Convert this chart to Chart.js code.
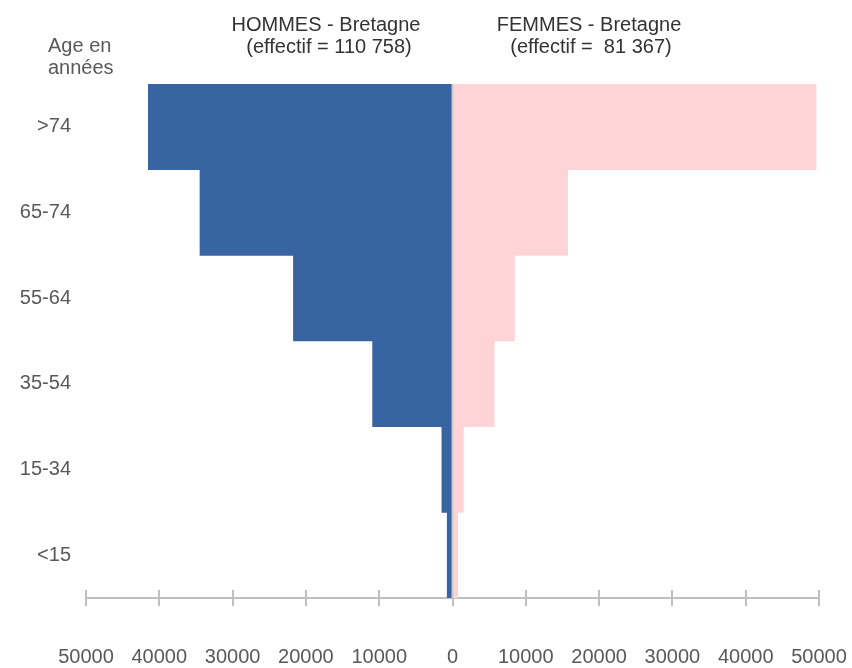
<!DOCTYPE html>
<html lang="fr">
<head>
<meta charset="utf-8">
<title>Pyramide des âges - Bretagne</title>
<script src="https://cdn.jsdelivr.net/npm/chart.js@4.4.1/dist/chart.umd.min.js"></script>
<style>
  html, body { margin: 0; padding: 0; background: #ffffff; }
  #wrap { width: 852px; height: 668px; }
</style>
</head>
<body>
<div id="wrap"><canvas id="pyramide" width="852" height="668"></canvas></div>
<script>
// Tranches d'âge, de la plus âgée (en haut) à la plus jeune
const ageGroups = ['>74', '65-74', '55-64', '35-54', '15-34', '<15'];
// Effectifs par tranche
const hommes = [41500, 34450, 21700, 10900, 1450, 720];
const femmes = [49600, 15700, 8450, 5700, 1480, 710];
// Graduations de l'axe horizontal
const axisTicks = [-50000, -40000, -30000, -20000, -10000, 0, 10000, 20000, 30000, 40000, 50000];

const FONT = "'Liberation Sans', Arial, sans-serif";

// Axe horizontal avec graduations de part et d'autre, et trait central
const axisPlugin = {
  id: 'axisPlugin',
  beforeDatasetsDraw(chart) {
    const { ctx, chartArea, scales } = chart;
    const x = scales.x;
    const yAxis = chartArea.bottom;
    ctx.save();
    ctx.strokeStyle = '#bfbfbf';
    ctx.lineWidth = 2;
    ctx.beginPath();
    ctx.moveTo(x.getPixelForValue(axisTicks[0]), yAxis);
    ctx.lineTo(x.getPixelForValue(axisTicks[axisTicks.length - 1]), yAxis);
    ctx.stroke();
    axisTicks.forEach(v => {
      const px = Math.round(x.getPixelForValue(v));
      ctx.beginPath();
      ctx.moveTo(px, yAxis - 8);
      ctx.lineTo(px, yAxis + 8);
      ctx.stroke();
    });
    ctx.restore();
  },
  afterDatasetsDraw(chart) {
    const { ctx, chartArea, scales } = chart;
    const px = scales.x.getPixelForValue(0);
    ctx.save();
    ctx.strokeStyle = '#c9c9c9';
    ctx.lineWidth = 2;
    ctx.beginPath();
    ctx.moveTo(px, chartArea.top);
    ctx.lineTo(px, chartArea.bottom);
    ctx.stroke();
    ctx.restore();
  }
};

// En-têtes des deux côtés de la pyramide
const headerPlugin = {
  id: 'headerPlugin',
  afterDraw(chart) {
    const { ctx } = chart;
    ctx.save();
    ctx.font = '20px ' + FONT;
    ctx.textBaseline = 'alphabetic';
    ctx.fillStyle = '#333333';
    ctx.textAlign = 'center';
    ctx.fillText('HOMMES - Bretagne', 326, 31);
    ctx.fillText('(effectif = 110 758)', 329, 53);
    ctx.fillText('FEMMES - Bretagne', 589, 31);
    ctx.fillText('(effectif =  81 367)', 591, 53);
    ctx.fillStyle = '#595959';
    ctx.textAlign = 'left';
    ctx.fillText('Age en', 48, 52);
    ctx.fillText('années', 48, 74);
    ctx.restore();
  }
};

new Chart(document.getElementById('pyramide'), {
  type: 'bar',
  data: {
    labels: ageGroups,
    datasets: [
      {
        label: 'Hommes',
        data: hommes.map(v => -v),
        backgroundColor: '#3964a2',
        borderWidth: 0,
        barPercentage: 1,
        categoryPercentage: 1
      },
      {
        label: 'Femmes',
        data: femmes,
        backgroundColor: '#ffd4d6',
        borderWidth: 0,
        barPercentage: 1,
        categoryPercentage: 1
      }
    ]
  },
  options: {
    indexAxis: 'y',
    responsive: false,
    animation: false,
    devicePixelRatio: 1,
    layout: { padding: { top: 84, right: 33, bottom: 0, left: 0 } },
    plugins: {
      legend: { display: false },
      tooltip: { enabled: false },
      title: { display: false }
    },
    scales: {
      x: {
        stacked: true,
        min: axisTicks[0],
        max: axisTicks[axisTicks.length - 1],
        grid: { display: false, drawTicks: false },
        border: { display: false },
        afterBuildTicks(scale) {
          scale.ticks = axisTicks.map(v => ({ value: v }));
        },
        afterFit(scale) {
          scale.height = 70;
          scale.paddingLeft = 0;
          scale.paddingRight = 0;
        },
        ticks: {
          autoSkip: false,
          maxRotation: 0,
          padding: 47,
          color: '#595959',
          font: { family: FONT, size: 20 },
          callback: v => String(Math.abs(v))
        }
      },
      y: {
        stacked: true,
        grid: { display: false, drawTicks: false },
        border: { display: false },
        afterFit(scale) { scale.width = 86; },
        ticks: {
          padding: 15,
          color: '#595959',
          font: { family: FONT, size: 20 }
        }
      }
    }
  },
  plugins: [axisPlugin, headerPlugin]
});
</script>
</body>
</html>
